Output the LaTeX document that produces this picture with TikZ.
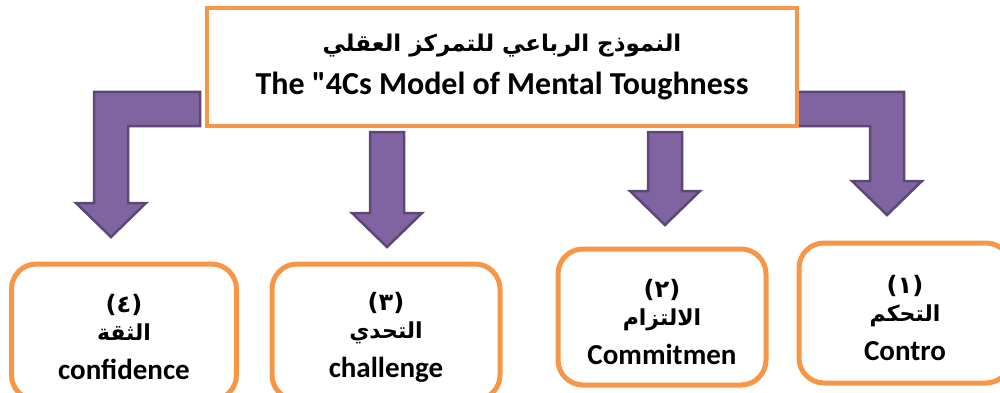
\documentclass[tikz,border=0pt]{standalone}
\usepackage{fontspec}
\newfontfamily\calibri{Carlito}
\newfontfamily\arabicfont[Script=Arabic]{DejaVu Sans}
\TeXXeTstate=1
\definecolor{boxorange}{HTML}{F79646}
\definecolor{arrowfill}{HTML}{8064A2}
\definecolor{arrowedge}{HTML}{5C4776}
\newcommand{\ar}[1]{{\arabicfont\beginR #1\endR}}
\newcommand{\num}[1]{{\arabicfont (#1)}}
\tikzset{
  titlebox/.style={draw=boxorange, line width=4pt, fill=white, minimum width=590, minimum height=117, align=center, font=\calibri\bfseries\fontsize{32}{43}\selectfont},
  itembox/.style={draw=boxorange, line width=5pt, rounded corners=25pt, fill=white, minimum height=136},
  itemtext/.style={align=center, font=\calibri\bfseries\fontsize{29}{28}\selectfont},
  blockarrow/.style={fill=arrowfill, draw=arrowedge, line width=2.5pt, line join=miter},
}
\begin{document}
\begin{tikzpicture}[x=1pt,y=-1pt]
	\useasboundingbox (0,0) rectangle (1000,393);
	\clip (0,0) rectangle (1000,393);
	\draw[blockarrow] (200,92) -- (94,92) -- (94,203) -- (76,203) -- (111,237) -- (146,203) -- (128,203) -- (128,126) -- (200,126) -- cycle;
	\draw[blockarrow] (370,132) -- (404,132) -- (404,213) -- (422,213) -- (387,247) -- (352,213) -- (370,213) -- cycle;
	\draw[blockarrow] (648,132) -- (682,132) -- (682,191) -- (700,191) -- (665,225) -- (630,191) -- (648,191) -- cycle;
	\draw[blockarrow] (796,92) -- (904,92) -- (904,181) -- (922,181) -- (887,215) -- (852,181) -- (870,181) -- (870,126) -- (796,126) -- cycle;
	\node[titlebox] (model) at (502,67) {\fontsize{23}{43}\selectfont\ar{النموذج الرباعي للتمركز العقلي}\\ \fontsize{32}{43}\selectfont The "4Cs Model of Mental Toughness};
	\node[itembox, minimum width=225] (confidence) at (124,332) {};
	\node[itembox, minimum width=228] (challenge) at (386,332) {};
	\node[itembox, minimum width=208] (commitment) at (662,317) {};
	\node[itembox, minimum width=212, minimum height=140] (control) at (905,313) {};
	\node[itemtext] (confidence-text) at ([yshift=-5pt]confidence.center) {\fontsize{24}{28}\selectfont\num{٤}\\ \fontsize{22}{28}\selectfont\ar{الثقة}\\[11pt] \fontsize{29}{28}\selectfont confidence};
	\node[itemtext] (challenge-text) at ([yshift=-5pt]challenge.center) {\fontsize{24}{28}\selectfont\num{٣}\\ \fontsize{22}{28}\selectfont\ar{التحدي}\\[11pt] \fontsize{29}{28}\selectfont challenge};
	\node[itemtext] (commitment-text) at ([yshift=-5pt]commitment.center) {\fontsize{24}{28}\selectfont\num{٢}\\ \fontsize{22}{28}\selectfont\ar{الالتزام}\\[11pt] \fontsize{29}{28}\selectfont Commitmen};
	\node[itemtext] (control-text) at ([yshift=-5pt]control.center) {\fontsize{24}{28}\selectfont\num{١}\\ \fontsize{22}{28}\selectfont\ar{التحكم}\\[11pt] \fontsize{29}{28}\selectfont Contro};
\end{tikzpicture}
\end{document}
